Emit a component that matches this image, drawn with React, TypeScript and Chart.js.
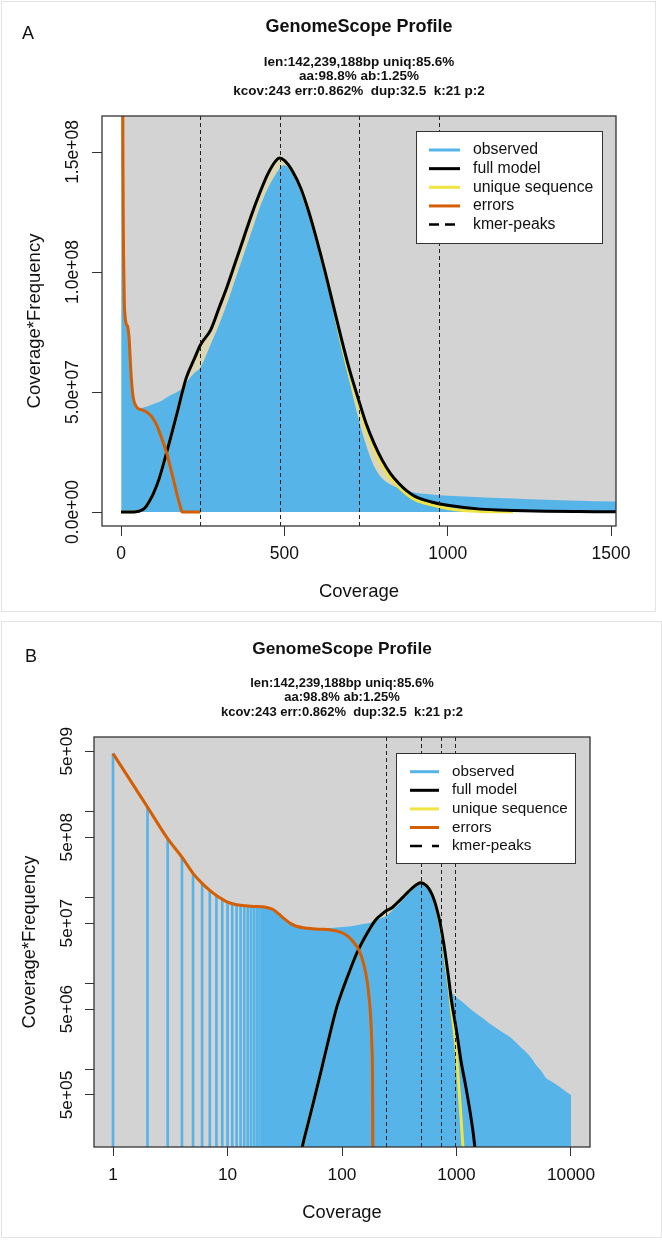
import React, { useEffect, useRef } from 'react';
import { Chart, registerables } from 'chart.js';

Chart.register(...registerables);

const FONT = '"Liberation Sans", Arial, Helvetica, sans-serif';

// ---------------- text ----------------
const TITLE = 'GenomeScope Profile';
const SUBTITLE_LINES = [
  'len:142,239,188bp uniq:85.6%',
  'aa:98.8% ab:1.25%',
  'kcov:243 err:0.862%  dup:32.5  k:21 p:2',
];
const X_TITLE = 'Coverage';
const Y_TITLE = 'Coverage*Frequency';
const LEGEND_LABELS = ['observed', 'full model', 'unique sequence', 'errors', 'kmer-peaks'];

// ---------------- data ----------------
const kmerPeaks = [243, 486, 729, 972];

// observed k-mer profile (coverage, coverage*frequency)
const obsCov = [
  1, 2, 3, 4, 5, 6, 7, 8, 9, 10, 11, 12, 13, 14, 15, 16, 17, 18, 19, 20, 21, 22, 23, 24,
  26, 28, 32, 36, 40, 49, 58, 80, 100, 120, 150, 181, 200, 225, 242, 275, 300, 325, 350,
  375, 400, 425, 450, 475, 490, 500, 525, 550, 575, 600, 625, 650, 675, 700, 725, 750,
  775, 800, 825, 850, 875, 900, 950, 1000, 1100, 1200, 1300, 1400, 1500, 1700, 2000,
  2500, 3000, 3500, 4000, 4500, 5000, 5500, 6000, 7000, 8000, 9000, 10000,
];
const obsVal = [
  4.7e9, 1.12e9, 4.8e8, 2.93e8, 1.9e8, 1.45e8, 1.2e8, 1.05e8, 9.5e7, 8.8e7, 8.4e7, 8.2e7,
  8.0e7, 7.9e7, 7.9e7, 7.85e7, 7.8e7, 7.8e7, 7.8e7, 7.75e7, 7.65e7, 7.5e7, 7.35e7, 7.2e7,
  6.8e7, 6.3e7, 5.4e7, 4.85e7, 4.55e7, 4.35e7, 4.33e7, 4.4e7, 4.5e7, 4.6e7, 4.85e7, 5.08e7,
  5.4e7, 5.8e7, 6.0e7, 7.0e7, 7.8e7, 8.7e7, 9.7e7, 1.07e8, 1.17e8, 1.27e8, 1.35e8, 1.41e8,
  1.44e8, 1.445e8, 1.41e8, 1.33e8, 1.23e8, 1.11e8, 9.8e7, 8.4e7, 6.9e7, 5.4e7, 4.0e7, 2.8e7,
  1.9e7, 1.4e7, 1.15e7, 1.0e7, 9.0e6, 8.0e6, 7.3e6, 6.8e6, 6.2e6, 5.6e6, 5.1e6, 4.7e6,
  4.4e6, 3.9e6, 3.3e6, 2.7e6, 2.3e6, 1.9e6, 1.6e6, 1.35e6, 1.1e6, 9.5e5, 8.0e5, 7.0e5,
  6.2e5, 5.5e5, 5.0e5,
];

// full model
const modCov = [
  0, 25, 35, 40, 45, 50, 57, 65, 75, 89, 100, 117, 135, 150, 175, 187, 200, 225, 243, 275,
  300, 325, 350, 375, 400, 425, 450, 475, 485, 500, 525, 550, 575, 600, 625, 650, 675, 700,
  729, 750, 775, 800, 825, 850, 875, 900, 950, 1000, 1100, 1200, 1300, 1400, 1450, 1500, 1600,
];
const modVal = [
  0, 2e3, 2e4, 5e4, 1.24e5, 2.2e5, 4.4e5, 9e5, 2e6, 5e6, 8e6, 1.4e7, 2.25e7, 3.0e7, 4.3e7,
  4.96e7, 5.6e7, 6.4e7, 6.96e7, 7.6e7, 8.5e7, 9.4e7, 1.04e8, 1.14e8, 1.24e8, 1.33e8, 1.41e8,
  1.465e8, 1.475e8, 1.465e8, 1.42e8, 1.35e8, 1.25e8, 1.13e8, 1.0e8, 8.6e7, 7.2e7, 5.9e7,
  4.6e7, 3.7e7, 2.85e7, 2.15e7, 1.6e7, 1.2e7, 8.8e6, 6.5e6, 4.2e6, 2.8e6, 1.2e6, 6.5e5,
  3.5e5, 1.8e5, 1.2e5, 8e4, 4e4,
];

// unique sequence
const uniCov = [
  0, 25, 35, 40, 45, 50, 57, 65, 75, 89, 100, 117, 135, 150, 175, 187, 200, 225, 243, 275,
  300, 325, 350, 375, 400, 425, 450, 475, 485, 500, 525, 550, 575, 600, 625, 650, 675, 700,
  729, 750, 775, 800, 825, 850, 875, 900, 950, 1000, 1050, 1100, 1150, 1200,
];
const uniVal = [
  0, 2e3, 2e4, 5e4, 1.24e5, 2.2e5, 4.4e5, 9e5, 2e6, 5e6, 8e6, 1.4e7, 2.25e7, 3.0e7, 4.3e7,
  4.96e7, 5.6e7, 6.4e7, 6.96e7, 7.6e7, 8.5e7, 9.4e7, 1.04e8, 1.14e8, 1.24e8, 1.33e8, 1.41e8,
  1.465e8, 1.475e8, 1.465e8, 1.42e8, 1.35e8, 1.25e8, 1.13e8, 1.0e8, 8.6e7, 7.05e7, 5.7e7,
  4.4e7, 3.5e7, 2.65e7, 1.95e7, 1.42e7, 1.04e7, 7.4e6, 5.2e6, 3.0e6, 1.5e6, 6e5, 2.5e5,
  1.0e5, 4e4,
];

// errors
const errCov = [
  1, 2, 3, 4, 5, 6, 7, 8, 10, 12, 15, 17, 20, 22, 25, 28, 32, 36, 40, 49, 65, 80, 95, 110,
  125, 141, 155, 165, 172, 178, 182, 185, 187, 243,
];
const errVal = [
  4.7e9, 1.12e9, 4.8e8, 2.93e8, 1.9e8, 1.45e8, 1.2e8, 1.05e8, 8.8e7, 8.2e7, 7.9e7, 7.8e7,
  7.75e7, 7.6e7, 7.2e7, 6.4e7, 5.5e7, 4.9e7, 4.6e7, 4.35e7, 4.25e7, 4.15e7, 3.95e7, 3.6e7,
  3.05e7, 2.4e7, 1.65e7, 1.1e7, 7e6, 4e6, 2e6, 6e5, 1e4, 0,
];

// axes
const xTicksA = [0, 500, 1000, 1500];
const xTickLabelsA = ['0', '500', '1000', '1500'];
const yTicksA = [0, 5e7, 1e8, 1.5e8];
const yTickLabelsA = ['0.0e+00', '5.0e+07', '1.0e+08', '1.5e+08'];
const xTicksB = [1, 10, 100, 1000, 10000];
const xTickLabelsB = ['1', '10', '100', '1000', '10000'];
const yTicksB = [5e5, 1e6, 5e6, 1e7, 5e7, 1e8, 5e8, 1e9, 5e9];
const yTickLabelsB = ['5e+05', '', '5e+06', '', '5e+07', '', '5e+08', '', '5e+09'];

// ---------------- styles ----------------
const COL = {
  bg: '#D3D3D3',
  obs: '#56B4E9',
  model: '#000000',
  unique: '#F0E442',
  errors: '#D55E00',
  beige: '#DCD6B4',
  text: '#111111',
  axis: '#333333',
};

const toPts = (xs: number[], ys: number[]) => xs.map((x, i) => ({ x, y: ys[i] }));
const positive = (p: { x: number; y: number }) => p.x > 0 && p.y > 0;

type LegendCfg = {
  x: number; y: number; w: number; h: number; row0: number; gap: number;
  l0: number; l1: number; tx: number; size: number; dash: number[];
};
type PanelCfg = {
  letter: string; letterX: number; letterY: number; letterSize: number;
  titleY: number; titleSize: number; subY: number; subGap: number; subSize: number;
  xTitleY: number; yTitleX: number; axisTitleSize: number;
  yLabelX: number; tickSize: number; yTicks: number[]; yLabels: string[];
  bgFromZero: boolean; legend: LegendCfg;
};

function makePanelPlugin(cfg: PanelCfg) {
  return {
    id: 'gsPanel' + cfg.letter,
    beforeDraw(chart: any) {
      const { ctx, chartArea: ca, scales } = chart;
      ctx.save();
      ctx.fillStyle = COL.bg;
      let x0 = ca.left;
      let y0 = ca.bottom;
      if (cfg.bgFromZero) {
        x0 = scales.x.getPixelForValue(0);
        y0 = scales.y.getPixelForValue(0);
      }
      ctx.fillRect(x0, ca.top, ca.right - x0, y0 - ca.top);
      ctx.restore();
    },
    afterDatasetsDraw(chart: any) {
      const { ctx, chartArea: ca, scales } = chart;
      ctx.save();
      // kmer peaks
      ctx.strokeStyle = '#222';
      ctx.lineWidth = 1;
      ctx.setLineDash([4, 3]);
      kmerPeaks.forEach((p) => {
        const x = Math.round(scales.x.getPixelForValue(p)) + 0.5;
        ctx.beginPath();
        ctx.moveTo(x, ca.top);
        ctx.lineTo(x, ca.bottom);
        ctx.stroke();
      });
      ctx.setLineDash([]);
      // box
      ctx.strokeStyle = COL.axis;
      ctx.lineWidth = 1.3;
      ctx.strokeRect(ca.left, ca.top, ca.right - ca.left, ca.bottom - ca.top);
      // legend
      const L = cfg.legend;
      ctx.fillStyle = '#ffffff';
      ctx.fillRect(L.x, L.y, L.w, L.h);
      ctx.strokeStyle = COL.axis;
      ctx.lineWidth = 1;
      ctx.strokeRect(L.x + 0.5, L.y + 0.5, L.w, L.h);
      const colors = [COL.obs, COL.model, COL.unique, COL.errors, COL.model];
      LEGEND_LABELS.forEach((lab, i) => {
        const y = L.row0 + i * L.gap;
        ctx.beginPath();
        ctx.setLineDash(i === 4 ? L.dash : []);
        ctx.lineWidth = i === 4 ? 2.5 : 3;
        ctx.strokeStyle = colors[i];
        ctx.moveTo(L.l0, y);
        ctx.lineTo(L.l1, y);
        ctx.stroke();
        ctx.setLineDash([]);
        ctx.fillStyle = COL.text;
        ctx.font = `${L.size}px ${FONT}`;
        ctx.textAlign = 'left';
        ctx.textBaseline = 'middle';
        ctx.fillText(lab, L.tx, y);
      });
      ctx.restore();
    },
    afterDraw(chart: any) {
      const { ctx, chartArea: ca, scales } = chart;
      const cx = (ca.left + ca.right) / 2;
      const cy = (ca.top + ca.bottom) / 2;
      ctx.save();
      ctx.fillStyle = COL.text;
      ctx.textAlign = 'center';
      ctx.textBaseline = 'middle';
      ctx.font = `bold ${cfg.titleSize}px ${FONT}`;
      ctx.fillText(TITLE, cx, cfg.titleY);
      ctx.font = `bold ${cfg.subSize}px ${FONT}`;
      SUBTITLE_LINES.forEach((s, i) => ctx.fillText(s, cx, cfg.subY + i * cfg.subGap));
      ctx.font = `${cfg.letterSize}px ${FONT}`;
      ctx.fillText(cfg.letter, cfg.letterX, cfg.letterY);
      ctx.font = `${cfg.axisTitleSize}px ${FONT}`;
      ctx.fillText(X_TITLE, cx, cfg.xTitleY);
      // y tick labels (rotated, parallel to axis)
      ctx.font = `${cfg.tickSize}px ${FONT}`;
      cfg.yTicks.forEach((v, i) => {
        const lab = cfg.yLabels[i];
        if (!lab) return;
        const y = scales.y.getPixelForValue(v);
        ctx.save();
        ctx.translate(cfg.yLabelX, y);
        ctx.rotate(-Math.PI / 2);
        ctx.fillText(lab, 0, 0);
        ctx.restore();
      });
      // y title
      ctx.font = `${cfg.axisTitleSize}px ${FONT}`;
      ctx.translate(cfg.yTitleX, cy);
      ctx.rotate(-Math.PI / 2);
      ctx.fillText(Y_TITLE, 0, 0);
      ctx.restore();
    },
  };
}

function xAxis(type: string, min: number, max: number, ticks: number[], labels: string[], tl: number, pad: number, size: number, h: number) {
  return {
    type, min, max, position: 'bottom',
    offset: false,
    afterBuildTicks: (s: any) => { s.ticks = ticks.map((v) => ({ value: v })); },
    afterFit: (s: any) => { s.height = h; },
    ticks: {
      autoSkip: false, maxRotation: 0, minRotation: 0, padding: pad, color: COL.text,
      font: { family: FONT, size },
      callback: (_v: any, i: number) => labels[i],
    },
    grid: { display: true, offset: false, drawOnChartArea: false, drawTicks: true, tickLength: tl, color: COL.axis, lineWidth: 1 },
    border: { display: false },
  };
}

function yAxis(type: string, min: number, max: number, ticks: number[], tl: number, w: number) {
  return {
    type, min, max, position: 'left',
    afterBuildTicks: (s: any) => { s.ticks = ticks.map((v) => ({ value: v })); },
    afterFit: (s: any) => { s.width = w; },
    ticks: { display: false },
    grid: { display: true, offset: false, drawOnChartArea: false, drawTicks: true, tickLength: tl, color: COL.axis, lineWidth: 1 },
    border: { display: false },
  };
}

const lineDs = (data: any[], color: string, order: number) => ({
  type: 'line', data, borderColor: color, borderWidth: 3, pointRadius: 0, fill: false,
  cubicInterpolationMode: 'monotone', order,
});
const areaDs = (data: any[], color: string, fill: string, order: number) => ({
  type: 'line', data, borderColor: 'rgba(0,0,0,0)', borderWidth: 0, backgroundColor: color,
  pointRadius: 0, fill, cubicInterpolationMode: 'monotone', order,
});

function buildA(): any {
  const cfg: PanelCfg = {
    letter: 'A', letterX: 28, letterY: 34, letterSize: 18,
    titleY: 27, titleSize: 18, subY: 62, subGap: 14.5, subSize: 13.5,
    xTitleY: 592, yTitleX: 35, axisTitleSize: 18.5,
    yLabelX: 73, tickSize: 17.5, yTicks: yTicksA, yLabels: yTickLabelsA,
    bgFromZero: true,
    legend: { x: 416, y: 131, w: 186, h: 112, row0: 150, gap: 18.65, l0: 429, l1: 460, tx: 473, size: 15.8, dash: [10, 6] },
  };
  return {
    type: 'line',
    data: {
      datasets: [
        lineDs(toPts(errCov, errVal), COL.errors, 1),
        lineDs(toPts(modCov, modVal), COL.model, 2),
        lineDs(toPts(uniCov, uniVal), COL.unique, 3),
        areaDs(toPts(obsCov, obsVal), COL.obs, 'origin', 5),
        areaDs(toPts(modCov, modVal), COL.beige, 'origin', 6),
      ],
    },
    options: {
      responsive: false, animation: false, devicePixelRatio: 1,
      layout: { padding: { left: 0, top: 116, right: 40, bottom: 0 } },
      plugins: { legend: { display: false }, tooltip: { enabled: false }, title: { display: false } },
      scales: {
        x: xAxis('linear', -58.2, 1515.3, xTicksA, xTickLabelsA, 10, 7.5, 17.5, 86),
        y: yAxis('linear', -5.83e6, 1.65e8, yTicksA, 10, 102),
      },
    },
    plugins: [makePanelPlugin(cfg)],
  };
}

function buildB(): any {
  const cfg: PanelCfg = {
    letter: 'B', letterX: 31, letterY: 37, letterSize: 18,
    titleY: 29, titleSize: 17.3, subY: 63, subGap: 14.5, subSize: 13,
    xTitleY: 593, yTitleX: 30, axisTitleSize: 18.3,
    yLabelX: 67, tickSize: 17.3, yTicks: yTicksB, yLabels: yTickLabelsB,
    bgFromZero: false,
    legend: { x: 396, y: 133, w: 179, h: 110, row0: 151.7, gap: 18.6, l0: 410, l1: 439, tx: 452, size: 15.2, dash: [12, 10] },
  };
  const obsPts = toPts(obsCov, obsVal);
  return {
    type: 'line',
    data: {
      datasets: [
        lineDs(toPts(errCov, errVal).filter(positive), COL.errors, 1),
        lineDs(toPts(modCov, modVal).filter(positive), COL.model, 2),
        lineDs(toPts(uniCov, uniVal).filter(positive), COL.unique, 3),
        {
          type: 'bar', data: obsPts.filter((p) => p.x <= 24), backgroundColor: COL.obs,
          borderWidth: 0, barThickness: 2, grouped: false, order: 4,
        },
        areaDs(obsPts.filter((p) => p.x >= 20), COL.obs, 'start', 5),
        areaDs(toPts(modCov, modVal).filter(positive), COL.beige, 'start', 6),
      ],
    },
    options: {
      responsive: false, animation: false, devicePixelRatio: 1,
      layout: { padding: { left: 0, top: 117, right: 72, bottom: 0 } },
      plugins: { legend: { display: false }, tooltip: { enabled: false }, title: { display: false } },
      scales: {
        x: xAxis('logarithmic', 0.682, 14660, xTicksB, xTickLabelsB, 9, 8.5, 17.3, 93),
        y: yAxis('logarithmic', 1.24e5, 7.33e9, yTicksB, 9, 94),
      },
    },
    plugins: [makePanelPlugin(cfg)],
  };
}

export default function App() {
  const refA = useRef<HTMLCanvasElement>(null);
  const refB = useRef<HTMLCanvasElement>(null);
  useEffect(() => {
    const a = new Chart(refA.current as HTMLCanvasElement, buildA());
    const b = new Chart(refB.current as HTMLCanvasElement, buildB());
    return () => {
      a.destroy();
      b.destroy();
    };
  }, []);
  return (
    <div style={{ position: 'absolute', left: 0, top: 0, width: 662, height: 1240, background: '#ffffff', overflow: 'hidden' }}>
      <div style={{ position: 'absolute', left: 1, top: 1, width: 655, height: 611, border: '1px solid #e3e3e3', boxSizing: 'border-box' }} />
      <div style={{ position: 'absolute', left: 1, top: 621, width: 661, height: 617, border: '1px solid #e3e3e3', boxSizing: 'border-box' }} />
      <canvas ref={refA} width={656} height={612} style={{ position: 'absolute', left: 0, top: 0, width: 656, height: 612 }} />
      <canvas ref={refB} width={662} height={620} style={{ position: 'absolute', left: 0, top: 620, width: 662, height: 620 }} />
    </div>
  );
}
